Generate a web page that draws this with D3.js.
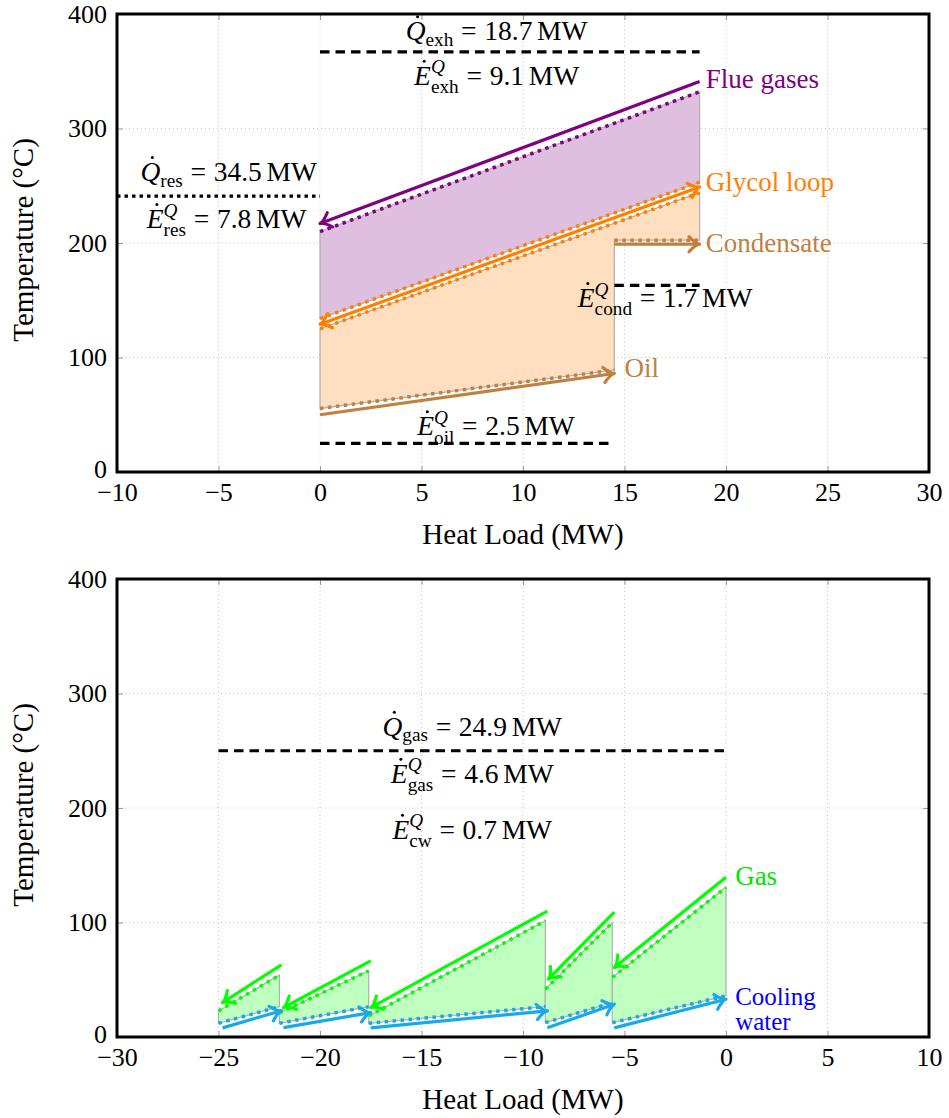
<!DOCTYPE html>
<html>
<head>
<meta charset="utf-8">
<script src="https://cdn.jsdelivr.net/npm/d3@7"></script>
<style>
  body { margin: 0; background: #fff; }
  svg text { font-family: "Liberation Serif", "Times New Roman", serif; }
</style>
</head>
<body>
<div id="chart"></div>
<script>
// ticks
const yTicks = [0, 100, 200, 300, 400];
const topXTicks = [-10, -5, 0, 5, 10, 15, 20, 25, 30];
const bottomXTicks = [-30, -25, -20, -15, -10, -5, 0, 5, 10];

// top panel streams, points are [heat load MW, temperature C]
const flueSolid = [[18.7, 341], [0, 217]];
const flueDotted = [[0, 210], [18.7, 332]];
const glycolSolid = [[0, 129], [18.7, 249]];
const glycolDottedUpper = [[0, 134], [18.7, 253]];
const glycolDottedLower = [[0, 125], [18.7, 244]];
const condensateSolid = [[14.5, 199], [18.7, 199]];
const condensateDotted = [[14.5, 202.5], [18.7, 202.5]];
const oilSolid = [[0, 50], [14.5, 86]];
const oilDotted = [[0, 55.5], [14.5, 89]];

// top panel reference lines
const resLine = [[-10, 241], [0, 241]];
const exhLine = [[0, 367], [18.7, 367]];
const condLine = [[14.5, 163], [18.7, 163]];
const oilLine = [[0, 25], [14.5, 25]];

// bottom panel: gas cooler sections
const gasSolid = [
  [[-21.9, 63], [-24.8, 30]],
  [[-17.5, 66.5], [-21.8, 25.7]],
  [[-8.8, 110], [-17.5, 25.6]],
  [[-5.5, 109], [-8.75, 50.5]],
  [[0, 139.5], [-5.5, 60.7]]
];
const gasDotted = [
  [[-25, 22.8], [-22, 54]],
  [[-22, 21], [-17.6, 57.8]],
  [[-17.6, 18.4], [-8.9, 101.5]],
  [[-8.9, 41.7], [-5.6, 100]],
  [[-5.6, 52], [0, 130.7]]
];
const cwSolid = [
  [[-24.8, 8], [-21.9, 23]],
  [[-21.8, 8.2], [-17.5, 21.3]],
  [[-17.5, 8], [-8.8, 22.8]],
  [[-8.8, 8], [-5.5, 28.6]],
  [[-5.5, 8], [0, 33]]
];
const cwDotted = [
  [[-25, 12], [-22, 26.5]],
  [[-22, 12], [-17.6, 26.5]],
  [[-17.6, 12], [-8.9, 26.5]],
  [[-8.9, 12.5], [-5.6, 30]],
  [[-5.6, 12.5], [0, 36]]
];
const gasLine = [[-25, 250], [0, 250]];

const width = 949, height = 1118;
const svg = d3.select("#chart").append("svg")
  .attr("width", width)
  .attr("height", height);

const FONT = 27.5;     // annotations
const TICKFONT = 26;
const violet = "#800080", orange = "#ff8000", brown = "#bf8040";
const green = "#00ff00", cyan = "#17a9e8";

// writes a little math expression made of pieces, laid out left to right
function mathLabel(parent, px, py, pieces, opt) {
  const fs = opt.size || FONT;
  const g = parent.append("g");
  const txt = g.append("text")
    .attr("font-size", fs)
    .attr("fill", opt.color || "#000");
  let cx = 0;
  pieces.forEach(p => {
    if (p.gap) { cx += p.gap * fs; return; }
    if (p.sup !== undefined || p.sub !== undefined) {
      let w = 0;
      if (p.sup) {
        const s = txt.append("tspan").attr("x", cx).attr("y", -0.42 * fs)
          .attr("font-size", fs * 0.7).attr("font-style", "italic").text(p.sup);
        w = Math.max(w, s.node().getComputedTextLength());
      }
      if (p.sub) {
        const s = txt.append("tspan").attr("x", cx).attr("y", (p.sup ? 0.3 : 0.2) * fs)
          .attr("font-size", fs * 0.7).text(p.sub);
        w = Math.max(w, s.node().getComputedTextLength());
      }
      cx += w;
      return;
    }
    const s = txt.append("tspan").attr("x", cx).attr("y", 0).text(p.t);
    if (p.i) s.attr("font-style", "italic");
    const w = s.node().getComputedTextLength();
    if (p.dot) {
      g.append("circle").attr("cx", cx + w * 0.6).attr("cy", -0.86 * fs)
        .attr("r", fs * 0.055).attr("fill", opt.color || "#000");
    }
    cx += w;
  });
  const shift = opt.anchor === "start" ? 0 : -cx / 2;
  g.attr("transform", `translate(${px + shift},${py})`);
  return g;
}

function arrowHead(g, p0, p1, color) {
  const a = Math.atan2(p1[1] - p0[1], p1[0] - p0[0]);
  const L = 13, spread = 0.62;
  const b1 = [p1[0] - L * Math.cos(a - spread), p1[1] - L * Math.sin(a - spread)];
  const b2 = [p1[0] - L * Math.cos(a + spread), p1[1] - L * Math.sin(a + spread)];
  const c = [p1[0] - 3.5 * Math.cos(a), p1[1] - 3.5 * Math.sin(a)];
  g.append("path")
    .attr("d", `M${b1[0]},${b1[1]} Q${c[0]},${c[1]} ${p1[0]},${p1[1]} Q${c[0]},${c[1]} ${b2[0]},${b2[1]}`)
    .attr("fill", "none").attr("stroke", color).attr("stroke-width", 3.2)
    .attr("stroke-linecap", "round").attr("stroke-linejoin", "round");
}

function panel(top, xDomain, xTicks) {
  const x = d3.scaleLinear().domain(xDomain).range([117, 929]);
  const y = d3.scaleLinear().domain([0, 400]).range([top + 458, top]);
  const g = svg.append("g");
  const line = d3.line().x(d => x(d[0])).y(d => y(d[1]));

  // grid
  g.append("g").selectAll("line").data(xTicks.slice(1, -1)).join("line")
    .attr("x1", d => x(d)).attr("x2", d => x(d))
    .attr("y1", y(400)).attr("y2", y(0))
    .attr("stroke", "#c8c8c8").attr("stroke-width", 1).attr("stroke-dasharray", "1,3");
  g.append("g").selectAll("line").data(yTicks.slice(1, -1)).join("line")
    .attr("x1", x.range()[0]).attr("x2", x.range()[1])
    .attr("y1", d => y(d)).attr("y2", d => y(d))
    .attr("stroke", "#c8c8c8").attr("stroke-width", 1).attr("stroke-dasharray", "1,3");

  // axes: labels outside, gray ticks inside
  const xa = g.append("g").attr("transform", `translate(0,${y(0)})`)
    .call(d3.axisBottom(x).tickValues(xTicks).tickSize(-6).tickPadding(11));
  const xt = g.append("g").attr("transform", `translate(0,${y(400)})`)
    .call(d3.axisTop(x).tickValues(xTicks).tickSize(-6).tickFormat(""));
  const ya = g.append("g").attr("transform", `translate(${x.range()[0]},0)`)
    .call(d3.axisLeft(y).tickValues(yTicks).tickSize(-6).tickPadding(10));
  const yr = g.append("g").attr("transform", `translate(${x.range()[1]},0)`)
    .call(d3.axisRight(y).tickValues(yTicks).tickSize(-6).tickFormat(""));
  [xa, xt, ya, yr].forEach(a => {
    a.select(".domain").remove();
    a.selectAll(".tick line").attr("stroke", "#999");
    a.selectAll("text").attr("font-size", TICKFONT).attr("fill", "#000")
      .style("font-family", "Liberation Serif, serif");
  });
  // the 0 label sits a bit above the corner, as in the original
  ya.selectAll(".tick").filter(d => d === 0).select("text").attr("dy", "0.2em");

  g.append("text")
    .attr("x", (x.range()[0] + x.range()[1]) / 2).attr("y", top + 530)
    .attr("text-anchor", "middle").attr("font-size", 29)
    .text("Heat Load (MW)");
  g.append("text")
    .attr("transform", `translate(33,${top + 226}) rotate(-90)`)
    .attr("text-anchor", "middle").attr("font-size", 29)
    .text("Temperature (\u00B0C)");

  return { g, x, y, line };
}

function fillPoly(p, pts, color) {
  p.g.append("path").attr("d", p.line(pts) + "Z")
    .attr("fill", color).attr("stroke", "#b0b0b0").attr("stroke-width", 1.2);
}
function dotted(p, pts, color) {
  p.g.append("path").attr("d", p.line(pts)).attr("fill", "none")
    .attr("stroke", color).attr("stroke-width", 3.5).attr("stroke-dasharray", "3.5,4.5");
}
function arrow(p, pts, color, both) {
  p.g.append("path").attr("d", p.line(pts)).attr("fill", "none")
    .attr("stroke", color).attr("stroke-width", 3.2);
  const px = pts.map(d => [p.x(d[0]), p.y(d[1])]);
  arrowHead(p.g, px[0], px[1], color);
  if (both) arrowHead(p.g, px[1], px[0], color);
}
function refLine(p, pts, dash) {
  p.g.append("path").attr("d", p.line(pts)).attr("fill", "none")
    .attr("stroke", "#000").attr("stroke-width", 3.2)
    .attr("stroke-dasharray", dash === "dotted" ? "3.5,4" : "9.5,6");
}
function frame(p) {
  p.g.append("rect")
    .attr("x", p.x.range()[0]).attr("y", p.y.range()[1])
    .attr("width", p.x.range()[1] - p.x.range()[0])
    .attr("height", p.y.range()[0] - p.y.range()[1])
    .attr("fill", "none").attr("stroke", "#000").attr("stroke-width", 3);
}

// ---------- top panel ----------
const A = panel(14, [-10, 30], topXTicks);

fillPoly(A, flueDotted.concat(glycolDottedUpper.slice().reverse()), "#dfbfdf");
fillPoly(A, glycolDottedLower.concat(condensateDotted.slice().reverse(), oilDotted.slice().reverse()), "#ffdfbf");

dotted(A, flueDotted, violet);
dotted(A, glycolDottedUpper, orange);
dotted(A, glycolDottedLower, orange);
dotted(A, condensateDotted, brown);
dotted(A, oilDotted, brown);

arrow(A, flueSolid, violet);
arrow(A, glycolSolid, orange, true);
arrow(A, condensateSolid, brown);
arrow(A, oilSolid, brown);

refLine(A, resLine, "dotted");
refLine(A, exhLine, "dashed");
refLine(A, condLine, "dashed");
refLine(A, oilLine, "dashed");

const eq = [{ gap: 0.28 }, { t: "=" }, { gap: 0.28 }];
const mw = v => [{ t: v }, { gap: 0.17 }, { t: "MW" }];
mathLabel(A.g, A.x(8.7), A.y(377), [{ t: "Q", i: true, dot: true }, { sub: "exh" }].concat(eq, mw("18.7")), {});
mathLabel(A.g, A.x(8.7), A.y(338), [{ t: "E", i: true, dot: true }, { sup: "Q", sub: "exh" }].concat(eq, mw("9.1")), {});
mathLabel(A.g, A.x(-4.5), A.y(254), [{ t: "Q", i: true, dot: true }, { sub: "res" }].concat(eq, mw("34.5")), {});
mathLabel(A.g, A.x(-4.6), A.y(213), [{ t: "E", i: true, dot: true }, { sup: "Q", sub: "res" }].concat(eq, mw("7.8")), {});
mathLabel(A.g, A.x(17.0), A.y(144), [{ t: "E", i: true, dot: true }, { sup: "Q", sub: "cond" }].concat(eq, mw("1.7")), {});
mathLabel(A.g, A.x(8.67), A.y(32), [{ t: "E", i: true, dot: true }, { sup: "Q", sub: "oil" }].concat(eq, mw("2.5")), {});

mathLabel(A.g, A.x(19.0), A.y(335), [{ t: "Flue gases" }], { anchor: "start", color: violet, size: 27 });
mathLabel(A.g, A.x(19.0), A.y(245), [{ t: "Glycol loop" }], { anchor: "start", color: orange, size: 27 });
mathLabel(A.g, A.x(19.0), A.y(192), [{ t: "Condensate" }], { anchor: "start", color: brown, size: 27 });
mathLabel(A.g, A.x(15.0), A.y(83), [{ t: "Oil" }], { anchor: "start", color: brown, size: 27 });

frame(A);

// ---------- bottom panel ----------
const B = panel(579, [-30, 10], bottomXTicks);

gasDotted.forEach((seg, i) => {
  fillPoly(B, seg.concat(cwDotted[i].slice().reverse()), "#bfffbf");
});
gasDotted.forEach(seg => dotted(B, seg, green));
cwDotted.forEach(seg => dotted(B, seg, cyan));
gasSolid.forEach(seg => arrow(B, seg, green));
cwSolid.forEach(seg => arrow(B, seg, cyan));

refLine(B, gasLine, "dashed");

mathLabel(B.g, B.x(-12.5), B.y(263), [{ t: "Q", i: true, dot: true }, { sub: "gas" }].concat(eq, mw("24.9")), {});
mathLabel(B.g, B.x(-12.5), B.y(222), [{ t: "E", i: true, dot: true }, { sup: "Q", sub: "gas" }].concat(eq, mw("4.6")), {});
mathLabel(B.g, B.x(-12.5), B.y(173), [{ t: "E", i: true, dot: true }, { sup: "Q", sub: "cw" }].concat(eq, mw("0.7")), {});

mathLabel(B.g, B.x(0.45), B.y(133), [{ t: "Gas" }], { anchor: "start", color: "#00e600", size: 27 });
mathLabel(B.g, B.x(0.45), B.y(28), [{ t: "Cooling" }], { anchor: "start", color: "#0000ff", size: 25 });
mathLabel(B.g, B.x(0.45), B.y(6), [{ t: "water" }], { anchor: "start", color: "#0000ff", size: 25 });

frame(B);
</script>
</body>
</html>
